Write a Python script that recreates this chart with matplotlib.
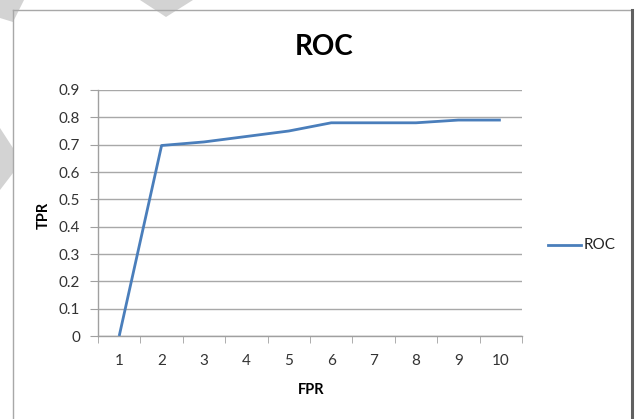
import matplotlib
matplotlib.use("Agg")
import matplotlib.pyplot as plt
from matplotlib.patches import Polygon
from matplotlib.lines import Line2D
import numpy as np

plt.rcParams["font.family"] = ["Lato", "DejaVu Sans"]

fpr_labels = ["1", "2", "3", "4", "5", "6", "7", "8", "9", "10"]
tpr = [0.0, 0.697, 0.71, 0.73, 0.75, 0.78, 0.78, 0.78, 0.79, 0.79]
yticks = [0, 0.1, 0.2, 0.3, 0.4, 0.5, 0.6, 0.7, 0.8, 0.9]

W, H = 636, 419
fig = plt.figure(figsize=(W / 100, H / 100), dpi=100)

def fx(px):
    return px / W

def fy(py):
    return 1 - py / H

# watermark shapes in the page corner
wm = "#d3d3d3"
for pts in [
    [(0, 0), (24, 0), (13, 22), (0, 18)],
    [(140, 0), (193, 0), (166, 17)],
    [(0, 128), (13, 148), (13, 173), (0, 190)],
]:
    fig.patches.append(Polygon([(fx(x), fy(y)) for x, y in pts], closed=True,
                               transform=fig.transFigure, facecolor=wm,
                               edgecolor="none", zorder=0))

# chart border
fig.add_artist(Line2D([fx(13), fx(13)], [fy(10), 0], color="#a8a8a8", lw=1.0,
                      transform=fig.transFigure))
fig.add_artist(Line2D([fx(13), fx(632)], [fy(10), fy(10)], color="#a8a8a8", lw=1.0,
                      transform=fig.transFigure))
fig.add_artist(Line2D([fx(632), fx(632)], [fy(10), 0], color="#606060", lw=2.2,
                      transform=fig.transFigure))

ax = fig.add_axes([fx(98), fy(336), fx(522) - fx(98), fy(90) - fy(336)])
x = np.arange(len(fpr_labels))
ax.plot(x, tpr, color="#4a7ebb", lw=2.0, solid_capstyle="butt", zorder=3)

ax.set_xlim(-0.5, len(fpr_labels) - 0.5)
ax.set_ylim(0, 0.9)
ax.set_yticks(yticks)
ax.set_yticklabels(["0"] + [f"{v:.1f}" for v in yticks[1:]])
ax.set_xticks(x)
ax.set_xticklabels(fpr_labels)
ax.set_xticks(np.arange(-0.5, len(fpr_labels)), minor=True)
ax.tick_params(axis="x", which="major", length=0, pad=13, labelsize=11, labelcolor="#333333")
ax.tick_params(axis="x", which="minor", length=5, color="#a0a0a0", direction="out")
ax.tick_params(axis="y", length=6, color="#a0a0a0", direction="out", pad=7,
               labelsize=11, labelcolor="#333333")
ax.grid(axis="y", color="#a8a8a8", lw=1.0)
ax.set_axisbelow(True)
for s in ["top", "right"]:
    ax.spines[s].set_visible(False)
for s in ["left", "bottom"]:
    ax.spines[s].set_color("#a0a0a0")
    ax.spines[s].set_linewidth(1.0)

fig.text(fx(324), fy(47), "ROC", ha="center", va="center", fontsize=20, fontweight="bold")
fig.text(fx(311), fy(390), "FPR", ha="center", va="center", fontsize=10.5, fontweight="bold")
fig.text(fx(44), fy(215), "TPR", ha="center", va="center", fontsize=10.5, fontweight="bold",
         rotation=90)

# legend
fig.add_artist(Line2D([fx(548), fx(581)], [fy(245), fy(245)], color="#4a7ebb", lw=2.0,
                      transform=fig.transFigure))
fig.text(fx(584), fy(245), "ROC", ha="left", va="center", fontsize=11, color="#222222")

fig.savefig("out.png", dpi=100, facecolor="white")
